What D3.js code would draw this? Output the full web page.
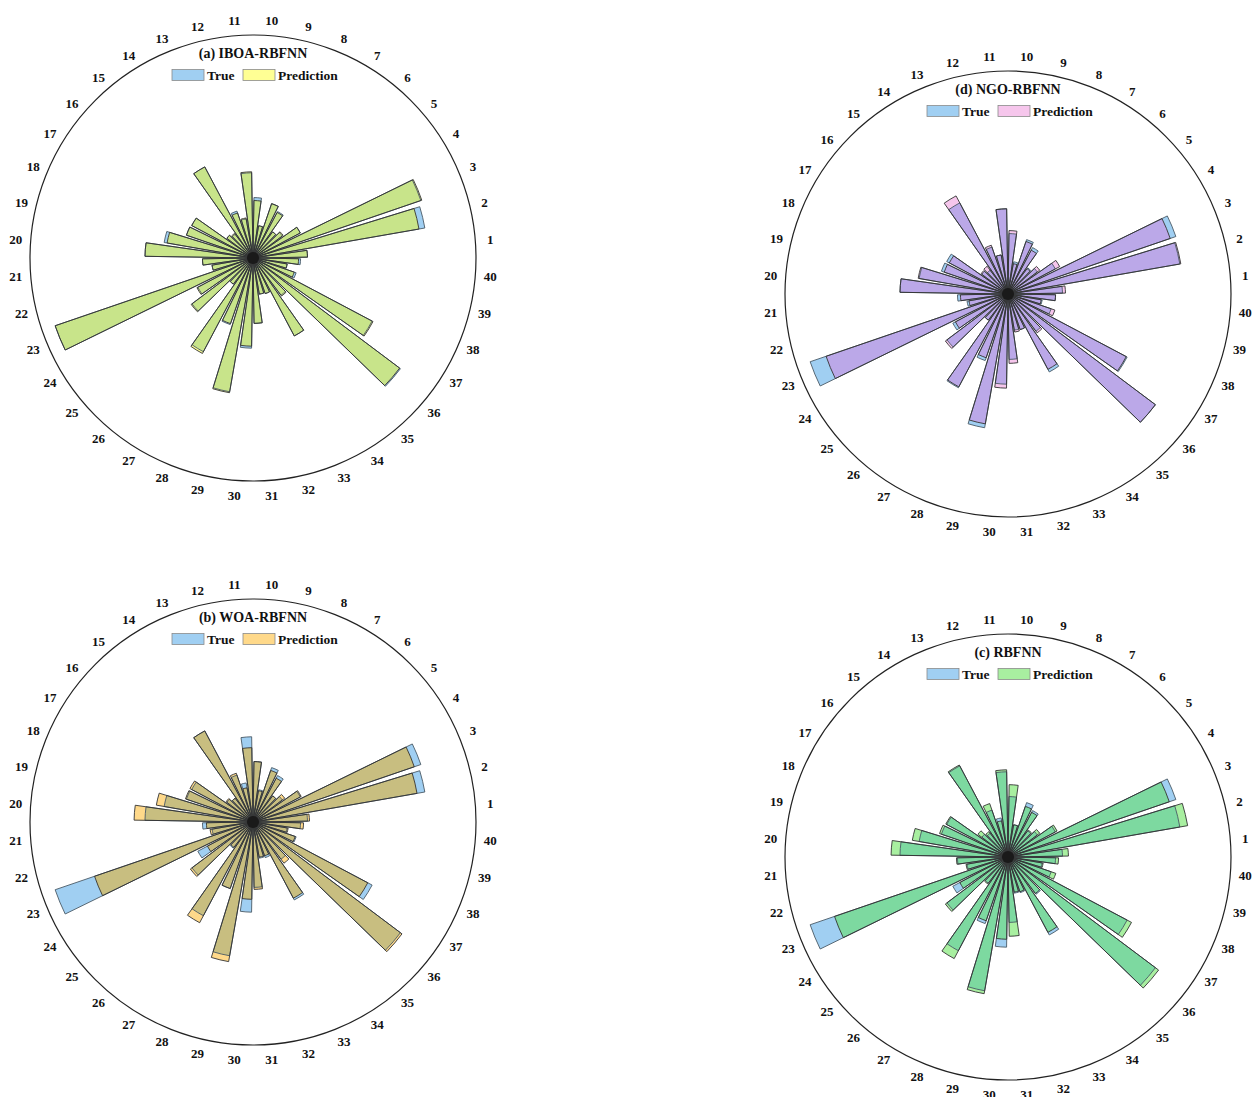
<!DOCTYPE html>
<html>
<head>
<meta charset="utf-8">
<script src="https://cdn.jsdelivr.net/npm/d3@7"></script>
<style>
  html, body { margin: 0; padding: 0; background: #fff; }
  svg text { font-family: "Liberation Serif", "Times New Roman", serif; font-weight: bold; fill: #111; }
</style>
</head>
<body>
<svg id="chart" width="1255" height="1097"></svg>
<script>
// Sample indices 1..40 around each rose
const categories = d3.range(1, 41).map(String);

// Measured values
const trueValues = [55,176,179,54,37,33,53,58,33,61,86,40,50,104,30,33,70,71,91,109,
                    51,42,211,63,77,33,107,71,137,91,66,37,38,89,47,186,136,46,35,48];

// Model predictions
const iboaPred  = [55,170,180,54,38,33,52,58,33,58,87,41,48,104,31,33,70,71,88,109,
                   51,42,211,64,78,33,109,70,138,89,66,37,38,89,48,185,137,44,35,46];
const woaPred   = [57,168,172,55,40,33,50,55,32,61,75,35,52,104,30,34,72,72,99,120,
                   47,44,169,52,79,32,115,71,143,78,68,36,36,87,52,188,131,45,36,51];
const ngoPred   = [58,177,173,59,40,32,50,56,31,64,86,40,52,112,35,34,67,68,92,109,
                   48,40,194,60,79,33,106,68,133,95,70,39,38,86,49,186,135,50,34,48];
const rbfPred   = [61,184,172,56,40,34,51,54,33,73,88,37,57,105,32,38,71,73,98,118,
                   52,43,185,55,79,34,116,68,140,83,80,36,37,86,46,190,141,51,36,51];

const panelTitles = ["(a) IBOA-RBFNN", "(d) NGO-RBFNN", "(b) WOA-RBFNN", "(c) RBFNN"];
const legendLabels = ["True", "Prediction"];

const trueColor = "#a0cff2";
const panels = [
  { title: panelTitles[0], pred: iboaPred, color: "#ffff94", mix: "#c8e48a", cx: 253,  cy: 258 },
  { title: panelTitles[1], pred: ngoPred,  color: "#f6c6ec", mix: "#bba8e8", cx: 1008, cy: 294 },
  { title: panelTitles[2], pred: woaPred,  color: "#ffd98a", mix: "#c8be80", cx: 253,  cy: 822 },
  { title: panelTitles[3], pred: rbfPred,  color: "#a8efa0", mix: "#7dd9a0", cx: 1008, cy: 857 }
];

const svg = d3.select("#chart");
const outerR = 223;
const labelR = 238;

// angular position measured counter-clockwise from east
const angle = d3.scaleBand()
  .domain(categories)
  .range([0, 2 * Math.PI])
  .paddingInner(0.2)
  .paddingOuter(0.1);

const radius = d3.scaleLinear().domain([0, 225]).range([0, outerR]);

const arc = d3.arc()
  .innerRadius(0)
  .startAngle(d => Math.PI / 2 - (angle(d.cat) + angle.bandwidth()))
  .endAngle(d => Math.PI / 2 - angle(d.cat))
  .outerRadius(d => radius(d.v));

panels.forEach(p => {
  const g = svg.append("g").attr("transform", `translate(${p.cx},${p.cy})`);

  // outer ring
  g.append("circle").attr("r", outerR)
    .attr("fill", "none").attr("stroke", "#222").attr("stroke-width", 1.2);

  const rows = categories.map((c, i) => ({ cat: c, t: trueValues[i], p: p.pred[i] }));

  // fills: true, prediction, then the shared part of both
  g.selectAll("path.tf").data(rows).join("path").attr("class", "tf")
    .attr("d", d => arc({ cat: d.cat, v: d.t })).attr("fill", trueColor);
  g.selectAll("path.pf").data(rows).join("path").attr("class", "pf")
    .attr("d", d => arc({ cat: d.cat, v: d.p })).attr("fill", p.color);
  g.selectAll("path.mf").data(rows).join("path").attr("class", "mf")
    .attr("d", d => arc({ cat: d.cat, v: Math.min(d.t, d.p) })).attr("fill", p.mix);

  // outlines
  g.selectAll("path.to").data(rows).join("path").attr("class", "to")
    .attr("d", d => arc({ cat: d.cat, v: d.t }))
    .attr("fill", "none").attr("stroke", "#4a5a66").attr("stroke-width", 0.9);
  g.selectAll("path.po").data(rows).join("path").attr("class", "po")
    .attr("d", d => arc({ cat: d.cat, v: d.p }))
    .attr("fill", "none").attr("stroke", "#333").attr("stroke-width", 0.9);

  g.append("circle").attr("r", 6).attr("fill", "#1a1a1a");

  // category labels
  g.selectAll("text.lab").data(categories).join("text").attr("class", "lab")
    .attr("x", d => labelR * Math.cos(angle(d) + angle.bandwidth() / 2))
    .attr("y", d => -labelR * Math.sin(angle(d) + angle.bandwidth() / 2))
    .attr("text-anchor", "middle").attr("dominant-baseline", "central")
    .attr("font-size", 13)
    .text(d => d);

  // title
  g.append("text").attr("x", 0).attr("y", -205)
    .attr("text-anchor", "middle").attr("dominant-baseline", "central")
    .attr("font-size", 14).text(p.title);

  // legend
  const leg = g.append("g").attr("transform", "translate(0,-183)");
  const items = [
    { label: legendLabels[0], color: trueColor, x: -81 },
    { label: legendLabels[1], color: p.color, x: -10 }
  ];
  items.forEach(it => {
    leg.append("rect").attr("x", it.x).attr("y", -5.5).attr("width", 32).attr("height", 11)
      .attr("fill", it.color).attr("stroke", "#8a8a8a").attr("stroke-width", 0.8);
    leg.append("text").attr("x", it.x + 35).attr("y", 0.5)
      .attr("dominant-baseline", "central").attr("font-size", 13.5).text(it.label);
  });
});
</script>
</body>
</html>
